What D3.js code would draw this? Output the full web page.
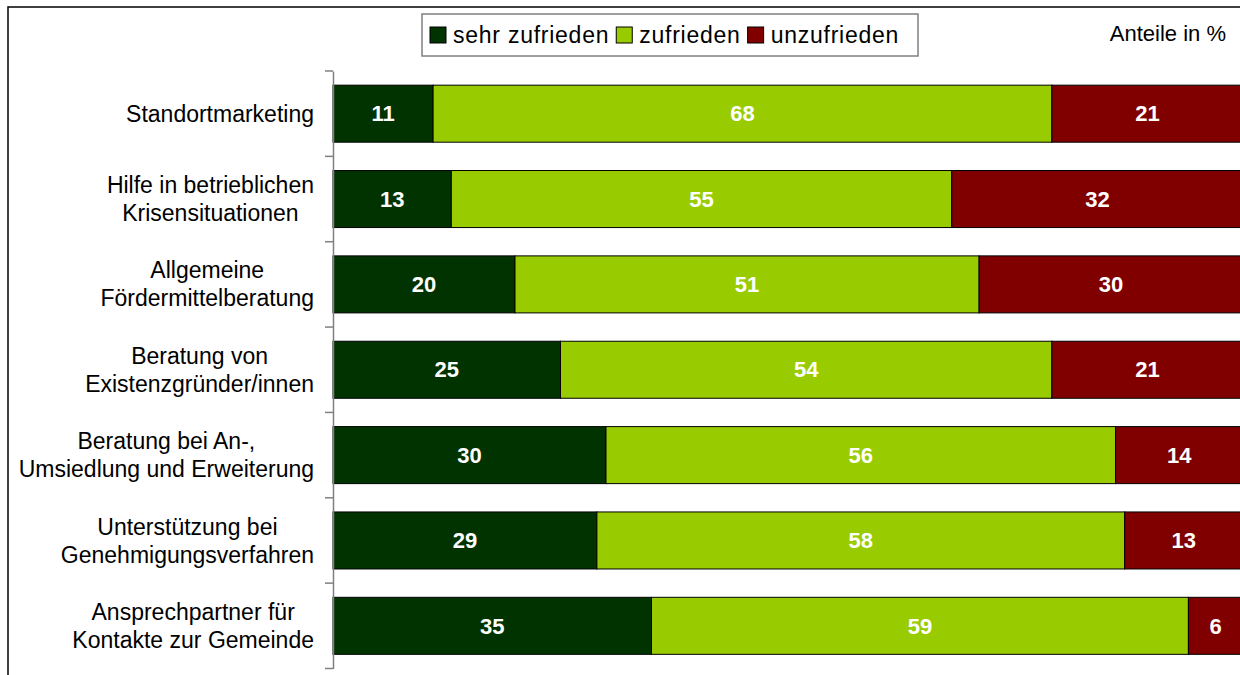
<!DOCTYPE html>
<html>
<head>
<meta charset="utf-8">
<script src="https://cdn.jsdelivr.net/npm/d3@7"></script>
<style>
  html, body { margin: 0; padding: 0; background: #fff; }
  svg { display: block; font-family: "Liberation Sans", Arial, sans-serif; }
</style>
</head>
<body>
<svg id="chart" width="1240" height="675"></svg>
<script>
const categories = [
  "Standortmarketing",
  "Hilfe in betrieblichen\nKrisensituationen",
  "Allgemeine\nFördermittelberatung",
  "Beratung von\nExistenzgründer/innen",
  "Beratung bei An-,\nUmsiedlung und Erweiterung",
  "Unterstützung bei\nGenehmigungsverfahren",
  "Ansprechpartner für\nKontakte zur Gemeinde"
];
const seriesNames = ["sehr zufrieden", "zufrieden", "unzufrieden"];
const sehrZufrieden = [11, 13, 20, 25, 30, 29, 35];
const zufrieden     = [68, 55, 51, 54, 56, 58, 59];
const unzufrieden   = [21, 32, 30, 21, 14, 13, 6];
const colors = ["#003300", "#99CC00", "#800000"];
const unitLabel = "Anteile in %";

const svg = d3.select("#chart");
const W = 1240, H = 675;

// outer frame
svg.append("rect").attr("x", 8).attr("y", 7).attr("width", W + 20).attr("height", H + 20)
  .attr("fill", "none").attr("stroke", "#000").attr("stroke-width", 1.5);

const x = d3.scaleLinear().domain([0, 100]).range([333, 1243]);
const y = d3.scaleBand().domain(categories).range([71, 668.5]).paddingInner(0.332).paddingOuter(0.166);

const rows = categories.map((c, i) => ({ cat: c, vals: [sehrZufrieden[i], zufrieden[i], unzufrieden[i]] }));
const stack = d3.stack().keys([0, 1, 2]).value((d, k) => d.vals[k]);
const stacked = stack(rows);

const g = svg.append("g");
stacked.forEach((layer, k) => {
  const lg = g.append("g");
  lg.selectAll("rect").data(layer).join("rect")
    .attr("x", d => x(d[0]))
    .attr("y", d => y(d.data.cat))
    .attr("width", d => x(Math.min(d[1], 100)) - x(d[0]))
    .attr("height", y.bandwidth())
    .attr("fill", colors[k])
    .attr("stroke", "#000")
    .attr("stroke-width", 1);
  lg.selectAll("text").data(layer).join("text")
    .attr("x", d => (x(d[0]) + x(Math.min(d[1], 100))) / 2)
    .attr("y", d => y(d.data.cat) + y.bandwidth() / 2)
    .attr("dy", "0.35em")
    .attr("text-anchor", "middle")
    .attr("fill", "#fff")
    .attr("font-weight", "bold")
    .attr("font-size", 22)
    .text(d => d.data.vals[k]);
});

// axis
const axis = d3.axisLeft(y).tickSize(0).tickFormat("");
const ax = svg.append("g").attr("transform", "translate(333,0)").call(axis);
ax.select(".domain").attr("stroke", "#808080").attr("stroke-width", 1.5);
// band boundary ticks
const bounds = categories.map(c => y(c) - y.step() * y.paddingInner() / 2);
bounds.push(668.5);
ax.selectAll(".bt").data(bounds).join("line")
  .attr("x1", -8).attr("x2", 0).attr("y1", d => d).attr("y2", d => d)
  .attr("stroke", "#808080").attr("stroke-width", 1.5);

// category labels, centered block right-aligned at 314
const lab = svg.append("g").attr("font-size", 23).attr("fill", "#000");
categories.forEach(c => {
  const lines = c.split("\n");
  const cy = y(c) + y.bandwidth() / 2;
  const t = lab.append("text").attr("text-anchor", "middle");
  const spans = lines.map((ln, i) => t.append("tspan")
    .attr("y", cy + (i - (lines.length - 1) / 2) * 28)
    .attr("dy", "0.35em").text(ln));
  const maxW = d3.max(spans, s => s.node().getComputedTextLength());
  spans.forEach(s => s.attr("x", 314 - maxW / 2));
});

// legend
const lgd = svg.append("g");
lgd.append("rect").attr("x", 422).attr("y", 14).attr("width", 496).attr("height", 42)
  .attr("fill", "#fff").attr("stroke", "#808080").attr("stroke-width", 1.5);
let lx = 430;
seriesNames.forEach((n, k) => {
  lgd.append("rect").attr("x", lx).attr("y", 27).attr("width", 16).attr("height", 16)
    .attr("fill", colors[k]).attr("stroke", "#000").attr("stroke-width", 1);
  const t = lgd.append("text").attr("x", lx + 23).attr("y", 35).attr("dy", "0.35em")
    .attr("font-size", 23).attr("letter-spacing", 0.75).text(n);
  lx += 23 + t.node().getComputedTextLength() + 7;
});

svg.append("text").attr("x", 1226).attr("y", 33).attr("dy", "0.35em")
  .attr("text-anchor", "end").attr("font-size", 22).text(unitLabel);
</script>
</body>
</html>
